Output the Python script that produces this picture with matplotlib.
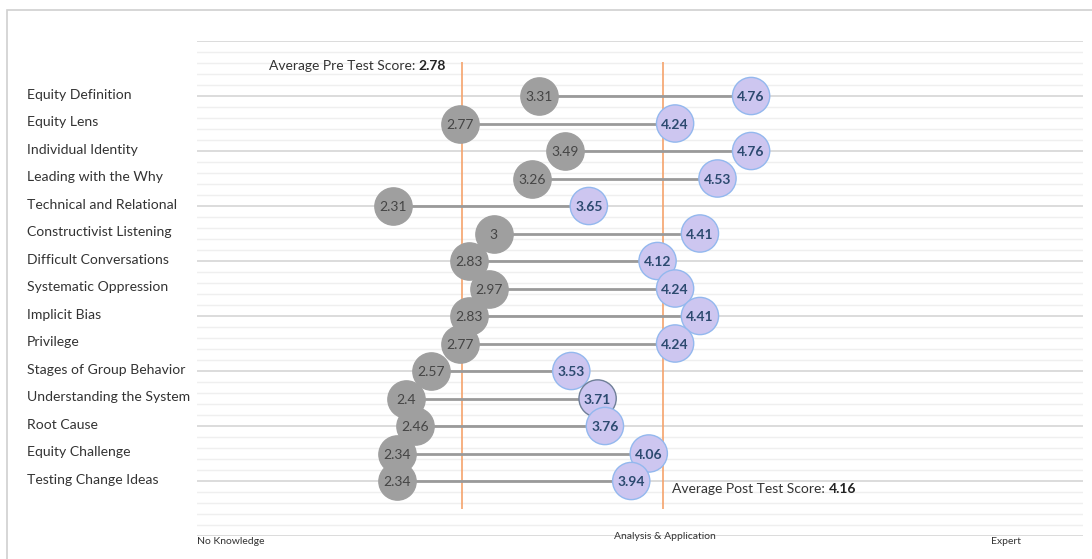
import matplotlib.pyplot as plt
from matplotlib.patches import Rectangle
import numpy as np

plt.rcParams['font.family'] = ['Lato', 'DejaVu Sans']

# data
topics = ['Equity Definition', 'Equity Lens', 'Individual Identity', 'Leading with the Why',
          'Technical and Relational', 'Constructivist Listening', 'Difficult Conversations',
          'Systematic Oppression', 'Implicit Bias', 'Privilege', 'Stages of Group Behavior',
          'Understanding the System', 'Root Cause', 'Equity Challenge', 'Testing Change Ideas']
pre_scores = [3.31, 2.77, 3.49, 3.26, 2.31, 3, 2.83, 2.97, 2.83, 2.77, 2.57, 2.4, 2.46, 2.34, 2.34]
post_scores = [4.76, 4.24, 4.76, 4.53, 3.65, 4.41, 4.12, 4.24, 4.41, 4.24, 3.53, 3.71, 3.76, 4.06, 3.94]
avg_pre = 2.78
avg_post = 4.16
scale_labels = ['No Knowledge', 'Analysis & Application', 'Expert']
scale_pos = [0.97, 4.17, 6.5]

fig = plt.figure(figsize=(10.92, 5.59), dpi=100)
ax = fig.add_axes([197 / 1092, 1 - 536 / 559, 886 / 1092, 495 / 559])

# outer frame like the report panel
fig.patches.append(Rectangle((7 / 1092, -0.1), 1.2, 1 - 10 / 559 + 0.1, transform=fig.transFigure,
                             fill=False, edgecolor='#d0d0d0', linewidth=1.2))

ax.set_xlim(0.97, 7.03)
ax.set_ylim(16, -2)

# horizontal grid, major every 2 rows, minor every 0.4
for y in np.arange(-2, 16.01, 0.4):
    major = abs(y / 2 - round(y / 2)) < 1e-6
    ax.axhline(y, color='#d9d9d9' if major else '#efefef', linewidth=1.3 if major else 1.0, zorder=0)

rows = np.arange(len(topics))

# average lines
ax.vlines([avg_pre, avg_post], -1.25, 15, color='#f5a36c', linewidth=1.2, zorder=1)

# dumbbells
ax.hlines(rows, pre_scores, post_scores, color='#9a9a9a', linewidth=2, zorder=2)
ax.scatter(pre_scores, rows, s=720, color='#9f9f9f', edgecolors='#9f9f9f', zorder=3)
edge = ['#6f7f98' if t == 'Understanding the System' else '#93b8ee' for t in topics]
ax.scatter(post_scores, rows, s=720, color='#cdc6f0', edgecolors=edge, linewidths=1, zorder=3)

for r, (p, q) in enumerate(zip(pre_scores, post_scores)):
    ax.text(p, r + 0.05, f'{p:g}', ha='center', va='center', fontsize=10, color='#454545', zorder=4)
    ax.text(q, r + 0.05, f'{q:g}', ha='center', va='center', fontsize=10, fontweight='bold',
            color='#2c4a70', zorder=4)

# category labels
for r, t in enumerate(topics):
    ax.text(-0.192, r - 0.05, t, transform=ax.get_yaxis_transform(), ha='left', va='center',
            fontsize=10.1, color='#333333')

# average annotations
pre_txt = ax.text(1.46, -1.1, 'Average Pre Test Score: ', ha='left', va='center', fontsize=10,
                  color='#333333')
ax.annotate(f'{avg_pre:g}', xycoords=pre_txt, xy=(1, 0.5), va='center', ha='left',
            fontsize=10, fontweight='bold', color='#222222')

post_txt = ax.text(4.22, 14.3, 'Average Post Test Score: ', ha='left', va='center', fontsize=10,
                   color='#333333')
ax.annotate(f'{avg_post:g}', xycoords=post_txt, xy=(1, 0.5), va='center', ha='left',
            fontsize=10, fontweight='bold', color='#222222')

# scale labels under the chart
for pos, lab, ha in zip(scale_pos, scale_labels, ['left', 'center', 'center']):
    ax.text(pos, 16.05 if lab != 'Analysis & Application' else 15.85, lab, ha=ha, va='top',
            fontsize=7.5, color='#333333', clip_on=False)

for s in ax.spines.values():
    s.set_visible(False)
ax.set_xticks([])
ax.set_yticks([])

fig.savefig('out.png', dpi=100)
